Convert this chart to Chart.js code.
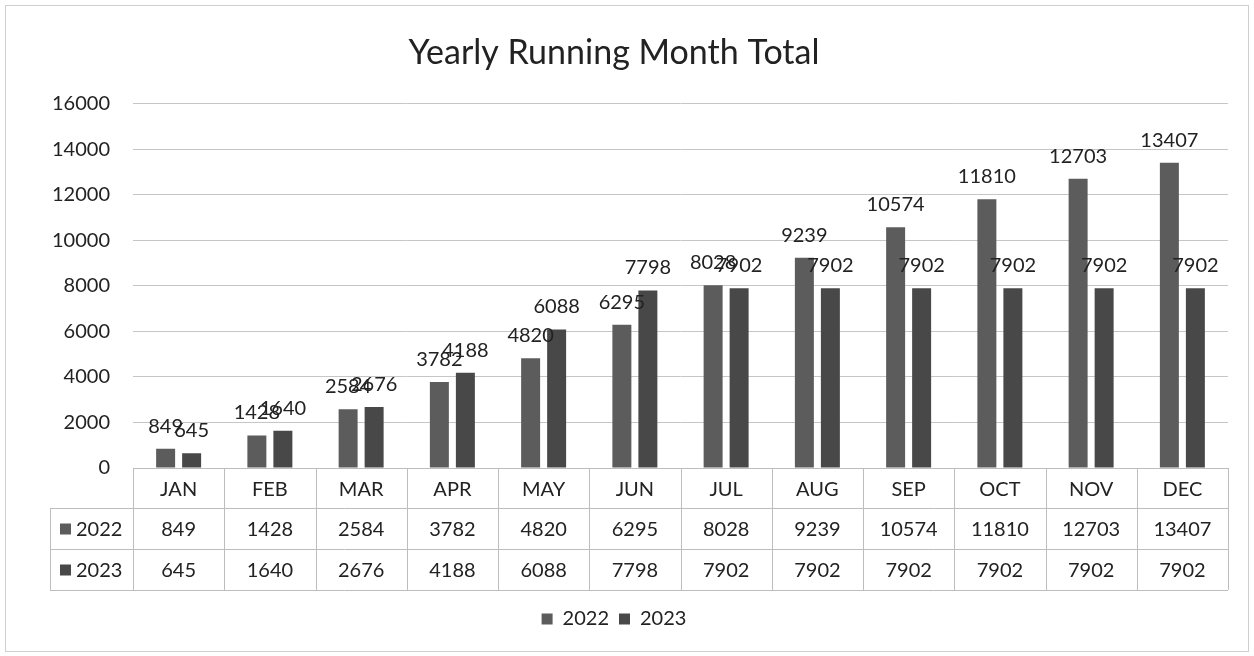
<!DOCTYPE html>
<html>
<head>
<meta charset="utf-8">
<script src="https://cdn.jsdelivr.net/npm/chart.js@4.4.1/dist/chart.umd.min.js"></script>
<style>
  html, body { margin: 0; padding: 0; background: #fff; }
  #wrap { width: 1254px; height: 656px; }
</style>
</head>
<body>
<div id="wrap"><canvas id="chart" width="1254" height="656"></canvas></div>
<script>
// Monthly running totals.
const months = ["JAN", "FEB", "MAR", "APR", "MAY", "JUN", "JUL", "AUG", "SEP", "OCT", "NOV", "DEC"];
const totals2022 = [849, 1428, 2584, 3782, 4820, 6295, 8028, 9239, 10574, 11810, 12703, 13407];
const totals2023 = [645, 1640, 2676, 4188, 6088, 7798, 7902, 7902, 7902, 7902, 7902, 7902];
const seriesNames = ["2022", "2023"];

const FONT = "Lato, 'Open Sans', sans-serif";
const TEXT = "#222";
const colors = ["#5c5c5c", "#484848"];

// Labels above the bars.
const barLabels = {
  id: "barLabels",
  afterDatasetsDraw(chart) {
    const ctx = chart.ctx;
    ctx.save();
    ctx.font = "20px " + FONT;
    ctx.fillStyle = TEXT;
    ctx.textAlign = "center";
    ctx.textBaseline = "alphabetic";
    chart.data.datasets.forEach((ds, di) => {
      chart.getDatasetMeta(di).data.forEach((bar, i) => {
        ctx.fillText(String(ds.data[i]), bar.x, bar.y - 16);
      });
    });
    ctx.restore();
  }
};

// Data table under the plot, plus the outer frame.
const dataTable = {
  id: "dataTable",
  afterDraw(chart) {
    const ctx = chart.ctx;
    const area = chart.chartArea;
    const xs = chart.scales.x;
    const colW = (area.right - area.left) / months.length;
    const rowTop = area.bottom;
    const rows = [rowTop, rowTop + 40, rowTop + 81, rowTop + 122];
    const labelLeft = 50;
    ctx.save();
    ctx.strokeStyle = "#bdbdbd";
    ctx.lineWidth = 1;
    ctx.beginPath();
    // horizontal lines
    ctx.moveTo(area.left, rows[0] + 0.5); ctx.lineTo(area.right, rows[0] + 0.5);
    for (let r = 1; r < rows.length; r++) {
      ctx.moveTo(labelLeft, rows[r] + 0.5); ctx.lineTo(area.right, rows[r] + 0.5);
    }
    // vertical lines
    for (let c = 0; c <= months.length; c++) {
      const x = Math.round(area.left + c * colW) + 0.5;
      ctx.moveTo(x, rows[0]); ctx.lineTo(x, rows[3]);
    }
    ctx.moveTo(labelLeft + 0.5, rows[1]); ctx.lineTo(labelLeft + 0.5, rows[3]);
    ctx.stroke();

    ctx.font = "20px " + FONT;
    ctx.fillStyle = TEXT;
    ctx.textBaseline = "middle";
    const series = [totals2022, totals2023];
    series.forEach((vals, s) => {
      const yMid = (rows[s + 1] + rows[s + 2]) / 2;
      ctx.textAlign = "center";
      ctx.fillStyle = TEXT;
      vals.forEach((v, i) => ctx.fillText(String(v), xs.getPixelForValue(i), yMid + 1));
      ctx.fillStyle = colors[s];
      ctx.fillRect(60, yMid - 5, 11, 11);
      ctx.fillStyle = TEXT;
      ctx.textAlign = "left";
      ctx.fillText(seriesNames[s], 76, yMid + 1);
    });

    // outer frame
    ctx.strokeStyle = "#cfcfcf";
    ctx.strokeRect(5.5, 5.5, 1243, 646);
    ctx.restore();
  }
};

new Chart(document.getElementById("chart"), {
  type: "bar",
  data: {
    labels: months,
    datasets: [
      { label: seriesNames[0], data: totals2022, backgroundColor: colors[0] },
      { label: seriesNames[1], data: totals2023, backgroundColor: colors[1] }
    ]
  },
  options: {
    responsive: false,
    animation: false,
    devicePixelRatio: 1,
    categoryPercentage: 0.57,
    barPercentage: 0.73,
    layout: { padding: { top: 0, left: 0, right: 26, bottom: 17 } },
    plugins: {
      title: {
        display: true,
        text: "Yearly Running Month Total",
        color: TEXT,
        font: { family: FONT, size: 34, weight: "normal" },
        padding: { top: 33, bottom: 30 }
      },
      legend: {
        position: "bottom",
        labels: {
          color: TEXT,
          font: { family: FONT, size: 20 },
          boxWidth: 11,
          boxHeight: 11,
          padding: 10
        }
      },
      tooltip: { enabled: false }
    },
    scales: {
      x: {
        grid: { display: false, drawTicks: false },
        border: { display: false },
        ticks: { color: TEXT, font: { family: FONT, size: 20 }, padding: 10, maxRotation: 0 },
        afterFit(scale) { scale.height = 131; }
      },
      y: {
        min: 0,
        max: 16000,
        grid: { color: "#c6c6c6", drawTicks: false },
        border: { display: false },
        ticks: {
          stepSize: 2000, color: TEXT, font: { family: FONT, size: 20 }, padding: 23,
          callback: (v) => String(v)
        },
        afterFit(scale) { scale.width = 133; }
      }
    }
  },
  plugins: [barLabels, dataTable]
});
</script>
</body>
</html>
